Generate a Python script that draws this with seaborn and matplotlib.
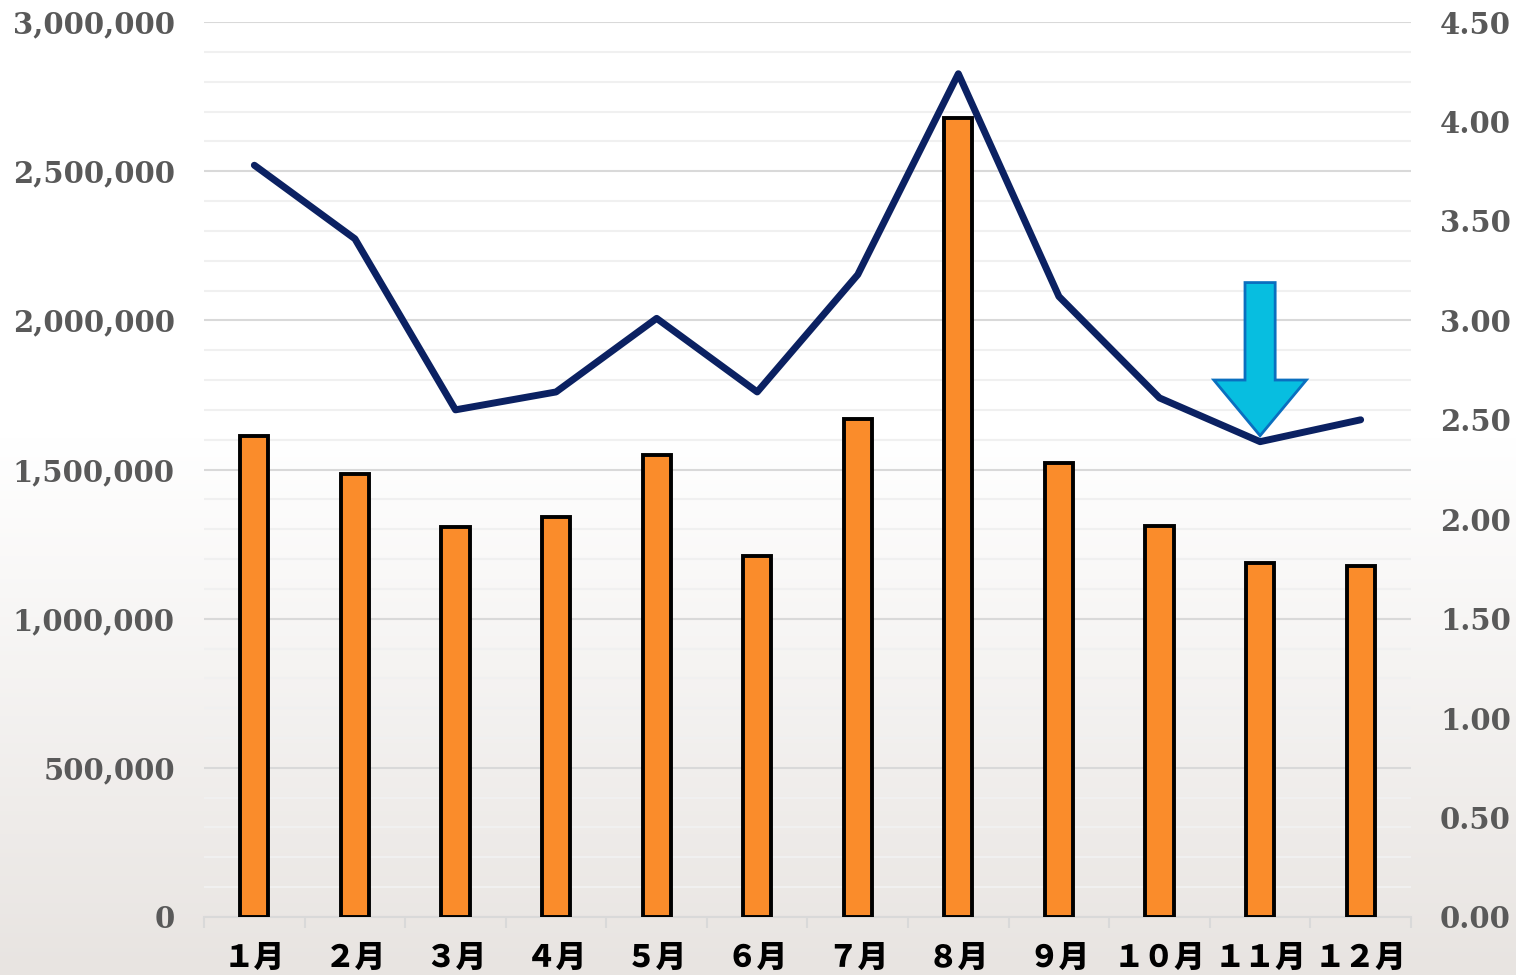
import numpy as np
import pandas as pd
import matplotlib
matplotlib.use("Agg")
import matplotlib.pyplot as plt
from matplotlib.patches import FancyArrow
from matplotlib.ticker import MultipleLocator, FuncFormatter
import seaborn as sns

# data
months = ["１月", "２月", "３月", "４月", "５月", "６月",
          "７月", "８月", "９月", "１０月", "１１月", "１２月"]
bar_values = [1612000, 1485000, 1307000, 1340000, 1548000, 1210000,
              1669000, 2678000, 1521000, 1310000, 1186000, 1176000]
line_values = [3.78, 3.41, 2.55, 2.64, 3.01, 2.64,
               3.23, 4.24, 3.12, 2.61, 2.39, 2.50]
arrow_month = 10  # 11月

df = pd.DataFrame({"month": months, "value": bar_values,
                   "ratio": line_values, "pos": np.arange(len(months))})

sns.set_theme(style="white")
plt.rcParams['font.family'] = ['Noto Sans CJK JP', 'DejaVu Sans']

fig = plt.figure(figsize=(15.16, 9.75), dpi=100)

# gradient background over the whole figure
bg = fig.add_axes([0, 0, 1, 1], zorder=-10)
t = np.linspace(0, 1, 256)
grad = np.clip((t - 0.45) / 0.55, 0, 1)
top = np.array([1.0, 1.0, 1.0])
bottom = np.array([232, 228, 225]) / 255
img = top[None, :] * (1 - grad[:, None]) + bottom[None, :] * grad[:, None]
bg.imshow(img[:, None, :], aspect="auto", extent=[0, 1, 0, 1])
bg.axis("off")

ax = fig.add_axes([0.1346, 0.0595, 0.7961, 0.9179])
ax.patch.set_visible(False)

sns.barplot(data=df, x="month", y="value", color="#FA8C2B", width=0.28,
            edgecolor="black", linewidth=2.8, saturation=1, ax=ax, zorder=3)

ax2 = ax.twinx()
sns.lineplot(data=df, x="pos", y="ratio", color="#0B2162", linewidth=5,
             ax=ax2, solid_capstyle="round", solid_joinstyle="round", zorder=5)

ax.set_xlim(-0.5, len(months) - 0.5)
ax.set_ylim(0, 3000000)
ax.yaxis.set_major_locator(MultipleLocator(500000))
ax.yaxis.set_minor_locator(MultipleLocator(100000))
ax.yaxis.set_major_formatter(FuncFormatter(lambda v, p: f"{int(v):,}"))
ax.grid(which="major", axis="y", color="#D9D9D9", linewidth=1.5, zorder=0)
ax.grid(which="minor", axis="y", color="#F0F0F0", linewidth=1.5, zorder=0)
ax.grid(False, axis="x")
ax.set_axisbelow(True)
for s in ["top", "left", "right"]:
    ax.spines[s].set_visible(False)
ax.spines["bottom"].set_color("#D9D9D9")
ax.spines["bottom"].set_linewidth(1.5)
ax.set_xlabel("")
ax.set_ylabel("")

ax.set_xticks(np.arange(-0.5, len(months), 1.0), minor=True)
ax.tick_params(axis="x", which="minor", bottom=True, length=8, width=1.5,
               color="#D9D9D9")
ax.tick_params(axis="x", which="major", bottom=False, pad=12)
ax.tick_params(axis="y", which="both", left=False, right=False, pad=15)
for lab in ax.get_xticklabels():
    lab.set_fontsize(22)
    lab.set_fontweight("black")
    lab.set_color("black")
for lab in ax.get_yticklabels():
    lab.set_family("DejaVu Serif")
    lab.set_fontweight("bold")
    lab.set_fontsize(21)
    lab.set_color("#595959")

ax2.set_ylim(0, 4.5)
ax2.yaxis.set_major_locator(MultipleLocator(0.5))
ax2.yaxis.set_major_formatter(FuncFormatter(lambda v, p: f"{v:.2f}"))
for s in ["top", "left", "right", "bottom"]:
    ax2.spines[s].set_visible(False)
ax2.set_xlabel("")
ax2.set_ylabel("")
ax2.grid(False)
ax2.tick_params(axis="y", which="both", right=False, left=False, pad=15)
for lab in ax2.get_yticklabels():
    lab.set_family("DejaVu Serif")
    lab.set_fontweight("bold")
    lab.set_fontsize(21)
    lab.set_color("#595959")

# down arrow pointing at the 11月 point
tip = line_values[arrow_month] + 0.03
length = 0.77
arrow = FancyArrow(arrow_month, tip + length, 0, -length, width=0.3,
                   head_width=0.92, head_length=0.28,
                   length_includes_head=True, facecolor="#07BEE0",
                   edgecolor="#0A6FBF", linewidth=2, zorder=6)
ax2.add_patch(arrow)

fig.savefig("out.png", dpi=100)
